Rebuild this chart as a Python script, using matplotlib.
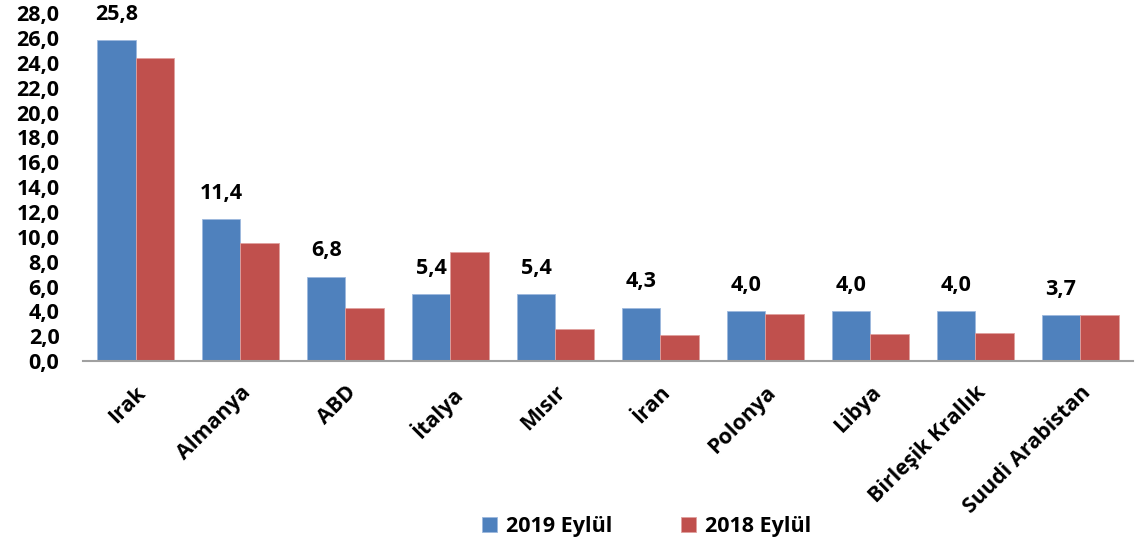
import matplotlib
matplotlib.use('Agg')
import matplotlib.pyplot as plt
import numpy as np

plt.rcParams['font.family'] = ['Open Sans', 'DejaVu Sans']
plt.rcParams['font.weight'] = 'bold'

countries = ['Irak', 'Almanya', 'ABD', 'İtalya', 'Mısır', 'İran', 'Polonya',
             'Libya', 'Birleşik Krallık', 'Suudi Arabistan']
sep2019 = [25.8, 11.4, 6.8, 5.4, 5.4, 4.3, 4.0, 4.0, 4.0, 3.7]
sep2018 = [24.4, 9.5, 4.3, 8.8, 2.6, 2.1, 3.8, 2.2, 2.25, 3.75]

blue = '#4F81BD'
red = '#C0504D'
barWidth = 0.367
fs = 15.5

fig = plt.figure(figsize=(11.44, 5.48), dpi=100)
ax = fig.add_axes([0.0726, 0.341, 0.9174, 0.635])

index = np.arange(len(countries))
b1 = ax.bar(index - barWidth/2, sep2019, barWidth, color=blue, label='2019 Eylül',
            edgecolor='#9DB9DD', linewidth=0.6)
b2 = ax.bar(index + barWidth/2, sep2018, barWidth, color=red, label='2018 Eylül',
            edgecolor='#E0A09E', linewidth=0.6)

# values only over the 2019 bars
for rect, v in zip(b1, sep2019):
    ax.annotate(f'{v:.1f}'.replace('.', ','),
                (rect.get_x() + rect.get_width()/2, rect.get_height()),
                xytext=(0, 11), textcoords='offset points',
                ha='center', va='bottom', fontsize=fs, fontweight='bold')

ax.set_xlim(-0.5, len(countries) - 0.5)
ax.set_ylim(0, 28)
ticks = np.arange(0, 28.1, 2)
ax.set_yticks(ticks)
ax.set_yticklabels([f'{t:.1f}'.replace('.', ',') for t in ticks],
                   fontsize=fs, fontweight='bold')
ax.set_xticks(index)
ax.set_xticklabels(countries, rotation=45, ha='right', rotation_mode='anchor',
                   fontsize=fs, fontweight='bold')
ax.tick_params(axis='both', length=0)
ax.tick_params(axis='y', pad=17)
ax.tick_params(axis='x', pad=15)

for s in ['top', 'right', 'left']:
    ax.spines[s].set_visible(False)
ax.spines['bottom'].set_color('#A0A0A0')
ax.spines['bottom'].set_linewidth(1.5)

fig.legend(handles=[b1, b2], loc='center', bbox_to_anchor=(0.565, 0.04), ncol=2,
           frameon=False, fontsize=fs, handlelength=0.7, handleheight=0.7,
           columnspacing=3.2, handletextpad=0.4)

fig.savefig('out.png', dpi=100)
